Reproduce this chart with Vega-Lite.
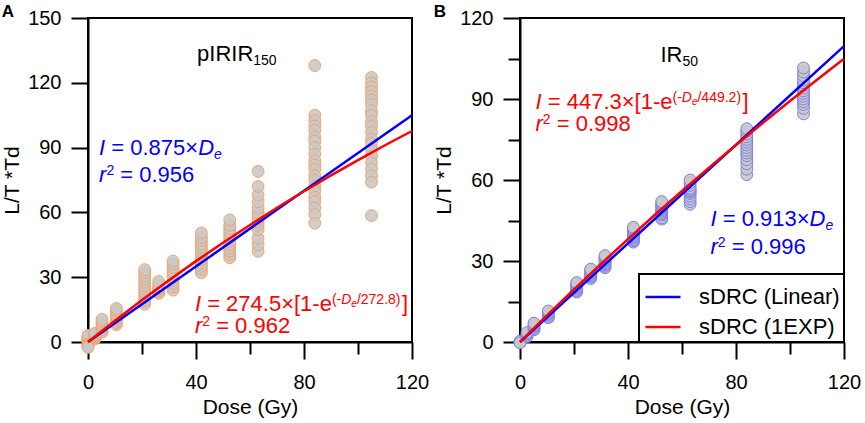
{
  "$schema": "https://vega.github.io/schema/vega-lite/v6.json",
  "padding": {"left": 0, "top": 2, "right": 0, "bottom": 0},
  "background": "white",
  "config": {
    "view": {"stroke": "black", "strokeWidth": 2},
    "font": "Liberation Sans",
    "axis": {
      "domainColor": "black", "domainWidth": 2, "tickColor": "black", "tickWidth": 2,
      "labelFont": "Liberation Sans", "labelFontSize": 20, "labelColor": "black",
      "titleFont": "Liberation Sans", "titleFontSize": 21, "titleFontWeight": "normal", "titleColor": "black",
      "grid": false, "labelFlush": false, "labelOverlap": false, "labelPadding": 10
    },
    "axisX": {"labelPadding": 13},
    "legend": {"strokeWidth": 2},
    "title": {"anchor": "start", "frame": "bounds", "font": "Liberation Sans", "fontSize": 17, "fontWeight": "bold", "color": "black", "offset": -13}
  },
  "datasets": {
    "ptsA": [
      {"dose": 0, "lum": 0}, {"dose": 0, "lum": 0.5}, {"dose": 0, "lum": 1}, {"dose": 0, "lum": 1.5}, {"dose": 0, "lum": 2}, {"dose": 0, "lum": 2.5}, {"dose": 0, "lum": 3}, {"dose": 0, "lum": -1}, {"dose": 0, "lum": -1.5}, {"dose": 0, "lum": -2}, {"dose": 0, "lum": -2.5},
      {"dose": 2.6, "lum": 1.5}, {"dose": 2.6, "lum": 2}, {"dose": 2.6, "lum": 2.5}, {"dose": 2.6, "lum": 3}, {"dose": 2.6, "lum": 3.5}, {"dose": 2.6, "lum": 4},
      {"dose": 5.2, "lum": 4.5}, {"dose": 5.2, "lum": 5.5}, {"dose": 5.2, "lum": 6.5}, {"dose": 5.2, "lum": 7.5}, {"dose": 5.2, "lum": 8.5}, {"dose": 5.2, "lum": 9.5}, {"dose": 5.2, "lum": 10.5},
      {"dose": 10.5, "lum": 8}, {"dose": 10.5, "lum": 9}, {"dose": 10.5, "lum": 10}, {"dose": 10.5, "lum": 11}, {"dose": 10.5, "lum": 12}, {"dose": 10.5, "lum": 13}, {"dose": 10.5, "lum": 14.5}, {"dose": 10.5, "lum": 15.5},
      {"dose": 21, "lum": 17.5}, {"dose": 21, "lum": 19}, {"dose": 21, "lum": 20.5}, {"dose": 21, "lum": 22}, {"dose": 21, "lum": 23}, {"dose": 21, "lum": 24.5}, {"dose": 21, "lum": 26}, {"dose": 21, "lum": 27.5}, {"dose": 21, "lum": 29}, {"dose": 21, "lum": 30.5}, {"dose": 21, "lum": 32}, {"dose": 21, "lum": 33.5},
      {"dose": 26.2, "lum": 22.5}, {"dose": 26.2, "lum": 23.5}, {"dose": 26.2, "lum": 24.5}, {"dose": 26.2, "lum": 25.5}, {"dose": 26.2, "lum": 26.5}, {"dose": 26.2, "lum": 28},
      {"dose": 31.5, "lum": 24}, {"dose": 31.5, "lum": 25.5}, {"dose": 31.5, "lum": 27}, {"dose": 31.5, "lum": 28.5}, {"dose": 31.5, "lum": 30}, {"dose": 31.5, "lum": 31.5}, {"dose": 31.5, "lum": 33}, {"dose": 31.5, "lum": 34.5}, {"dose": 31.5, "lum": 36}, {"dose": 31.5, "lum": 37.5},
      {"dose": 42, "lum": 32}, {"dose": 42, "lum": 33.5}, {"dose": 42, "lum": 35}, {"dose": 42, "lum": 36.5}, {"dose": 42, "lum": 38}, {"dose": 42, "lum": 39.5}, {"dose": 42, "lum": 41}, {"dose": 42, "lum": 42.5}, {"dose": 42, "lum": 44}, {"dose": 42, "lum": 45.5}, {"dose": 42, "lum": 47}, {"dose": 42, "lum": 48.5}, {"dose": 42, "lum": 50.5},
      {"dose": 52.5, "lum": 39}, {"dose": 52.5, "lum": 40.5}, {"dose": 52.5, "lum": 42}, {"dose": 52.5, "lum": 43.5}, {"dose": 52.5, "lum": 45}, {"dose": 52.5, "lum": 46.5}, {"dose": 52.5, "lum": 48}, {"dose": 52.5, "lum": 49.5}, {"dose": 52.5, "lum": 51}, {"dose": 52.5, "lum": 52.5}, {"dose": 52.5, "lum": 54}, {"dose": 52.5, "lum": 56.5},
      {"dose": 63, "lum": 42}, {"dose": 63, "lum": 45}, {"dose": 63, "lum": 48}, {"dose": 63, "lum": 52}, {"dose": 63, "lum": 54}, {"dose": 63, "lum": 55.5}, {"dose": 63, "lum": 57}, {"dose": 63, "lum": 58.5}, {"dose": 63, "lum": 60}, {"dose": 63, "lum": 62}, {"dose": 63, "lum": 65}, {"dose": 63, "lum": 68}, {"dose": 63, "lum": 72}, {"dose": 63, "lum": 79},
      {"dose": 84, "lum": 128}, {"dose": 84, "lum": 105}, {"dose": 84, "lum": 102.5}, {"dose": 84, "lum": 100}, {"dose": 84, "lum": 98}, {"dose": 84, "lum": 95}, {"dose": 84, "lum": 93}, {"dose": 84, "lum": 90}, {"dose": 84, "lum": 87}, {"dose": 84, "lum": 84}, {"dose": 84, "lum": 82}, {"dose": 84, "lum": 80}, {"dose": 84, "lum": 77}, {"dose": 84, "lum": 75}, {"dose": 84, "lum": 72}, {"dose": 84, "lum": 70}, {"dose": 84, "lum": 67}, {"dose": 84, "lum": 65}, {"dose": 84, "lum": 62}, {"dose": 84, "lum": 59}, {"dose": 84, "lum": 55},
      {"dose": 105, "lum": 122.5}, {"dose": 105, "lum": 120}, {"dose": 105, "lum": 118}, {"dose": 105, "lum": 116}, {"dose": 105, "lum": 114}, {"dose": 105, "lum": 112}, {"dose": 105, "lum": 110}, {"dose": 105, "lum": 107}, {"dose": 105, "lum": 105}, {"dose": 105, "lum": 102}, {"dose": 105, "lum": 100}, {"dose": 105, "lum": 97}, {"dose": 105, "lum": 94}, {"dose": 105, "lum": 92}, {"dose": 105, "lum": 89}, {"dose": 105, "lum": 86}, {"dose": 105, "lum": 83}, {"dose": 105, "lum": 80}, {"dose": 105, "lum": 77}, {"dose": 105, "lum": 74}, {"dose": 105, "lum": 58.5}
    ],
    "ptsB": [
      {"dose": 0, "lum": 0}, {"dose": 0, "lum": 0.3}, {"dose": 0, "lum": -0.3},
      {"dose": 2.6, "lum": 2}, {"dose": 2.6, "lum": 2.5}, {"dose": 2.6, "lum": 3}, {"dose": 2.6, "lum": 3.5},
      {"dose": 5.2, "lum": 4.5}, {"dose": 5.2, "lum": 5}, {"dose": 5.2, "lum": 5.5}, {"dose": 5.2, "lum": 6}, {"dose": 5.2, "lum": 6.5}, {"dose": 5.2, "lum": 7},
      {"dose": 10.5, "lum": 9}, {"dose": 10.5, "lum": 9.5}, {"dose": 10.5, "lum": 10}, {"dose": 10.5, "lum": 10.5}, {"dose": 10.5, "lum": 11}, {"dose": 10.5, "lum": 11.5},
      {"dose": 21, "lum": 18.5}, {"dose": 21, "lum": 19}, {"dose": 21, "lum": 19.5}, {"dose": 21, "lum": 20}, {"dose": 21, "lum": 20.5}, {"dose": 21, "lum": 21}, {"dose": 21, "lum": 21.5}, {"dose": 21, "lum": 22},
      {"dose": 26.2, "lum": 23.5}, {"dose": 26.2, "lum": 24}, {"dose": 26.2, "lum": 24.5}, {"dose": 26.2, "lum": 25}, {"dose": 26.2, "lum": 25.5}, {"dose": 26.2, "lum": 26}, {"dose": 26.2, "lum": 26.5}, {"dose": 26.2, "lum": 27},
      {"dose": 31.5, "lum": 27.5}, {"dose": 31.5, "lum": 28}, {"dose": 31.5, "lum": 28.5}, {"dose": 31.5, "lum": 29}, {"dose": 31.5, "lum": 29.5}, {"dose": 31.5, "lum": 30}, {"dose": 31.5, "lum": 30.5}, {"dose": 31.5, "lum": 31}, {"dose": 31.5, "lum": 31.5}, {"dose": 31.5, "lum": 32},
      {"dose": 42, "lum": 37}, {"dose": 42, "lum": 37.5}, {"dose": 42, "lum": 38}, {"dose": 42, "lum": 38.5}, {"dose": 42, "lum": 39}, {"dose": 42, "lum": 39.5}, {"dose": 42, "lum": 40}, {"dose": 42, "lum": 40.5}, {"dose": 42, "lum": 41}, {"dose": 42, "lum": 41.5}, {"dose": 42, "lum": 42}, {"dose": 42, "lum": 42.5},
      {"dose": 52.5, "lum": 45.5}, {"dose": 52.5, "lum": 46}, {"dose": 52.5, "lum": 47}, {"dose": 52.5, "lum": 47.5}, {"dose": 52.5, "lum": 48}, {"dose": 52.5, "lum": 48.5}, {"dose": 52.5, "lum": 49}, {"dose": 52.5, "lum": 49.5}, {"dose": 52.5, "lum": 50}, {"dose": 52.5, "lum": 50.5}, {"dose": 52.5, "lum": 51}, {"dose": 52.5, "lum": 51.5}, {"dose": 52.5, "lum": 52},
      {"dose": 63, "lum": 51}, {"dose": 63, "lum": 52}, {"dose": 63, "lum": 53}, {"dose": 63, "lum": 54}, {"dose": 63, "lum": 55}, {"dose": 63, "lum": 55.5}, {"dose": 63, "lum": 56}, {"dose": 63, "lum": 56.5}, {"dose": 63, "lum": 57}, {"dose": 63, "lum": 58}, {"dose": 63, "lum": 59}, {"dose": 63, "lum": 60},
      {"dose": 84, "lum": 62}, {"dose": 84, "lum": 64}, {"dose": 84, "lum": 66}, {"dose": 84, "lum": 67.5}, {"dose": 84, "lum": 69}, {"dose": 84, "lum": 70}, {"dose": 84, "lum": 71}, {"dose": 84, "lum": 72}, {"dose": 84, "lum": 73}, {"dose": 84, "lum": 74}, {"dose": 84, "lum": 75}, {"dose": 84, "lum": 76}, {"dose": 84, "lum": 77}, {"dose": 84, "lum": 78}, {"dose": 84, "lum": 79},
      {"dose": 105, "lum": 84.5}, {"dose": 105, "lum": 86.5}, {"dose": 105, "lum": 88}, {"dose": 105, "lum": 89}, {"dose": 105, "lum": 90}, {"dose": 105, "lum": 91}, {"dose": 105, "lum": 92}, {"dose": 105, "lum": 93}, {"dose": 105, "lum": 94}, {"dose": 105, "lum": 95}, {"dose": 105, "lum": 96}, {"dose": 105, "lum": 97}, {"dose": 105, "lum": 98.5}, {"dose": 105, "lum": 100}, {"dose": 105, "lum": 101.5}
    ],
    "fitA": [
      {"fit": "sDRC (Linear)", "dose": 0, "lum": 0}, {"fit": "sDRC (Linear)", "dose": 120, "lum": 105},
      {"fit": "sDRC (1EXP)", "dose": 0, "lum": 0}, {"fit": "sDRC (1EXP)", "dose": 10, "lum": 9.88}, {"fit": "sDRC (1EXP)", "dose": 20, "lum": 19.41}, {"fit": "sDRC (1EXP)", "dose": 30, "lum": 28.59}, {"fit": "sDRC (1EXP)", "dose": 40, "lum": 37.44}, {"fit": "sDRC (1EXP)", "dose": 50, "lum": 45.97}, {"fit": "sDRC (1EXP)", "dose": 60, "lum": 54.2}, {"fit": "sDRC (1EXP)", "dose": 70, "lum": 62.13}, {"fit": "sDRC (1EXP)", "dose": 80, "lum": 69.77}, {"fit": "sDRC (1EXP)", "dose": 90, "lum": 77.14}, {"fit": "sDRC (1EXP)", "dose": 100, "lum": 84.24}, {"fit": "sDRC (1EXP)", "dose": 110, "lum": 91.09}, {"fit": "sDRC (1EXP)", "dose": 120, "lum": 97.69}
    ],
    "fitB": [
      {"fit": "sDRC (Linear)", "dose": 0, "lum": 0}, {"fit": "sDRC (Linear)", "dose": 120, "lum": 109.56},
      {"fit": "sDRC (1EXP)", "dose": 0, "lum": 0}, {"fit": "sDRC (1EXP)", "dose": 10, "lum": 9.85}, {"fit": "sDRC (1EXP)", "dose": 20, "lum": 19.48}, {"fit": "sDRC (1EXP)", "dose": 30, "lum": 28.9}, {"fit": "sDRC (1EXP)", "dose": 40, "lum": 38.11}, {"fit": "sDRC (1EXP)", "dose": 50, "lum": 47.12}, {"fit": "sDRC (1EXP)", "dose": 60, "lum": 55.93}, {"fit": "sDRC (1EXP)", "dose": 70, "lum": 64.54}, {"fit": "sDRC (1EXP)", "dose": 80, "lum": 72.97}, {"fit": "sDRC (1EXP)", "dose": 90, "lum": 81.21}, {"fit": "sDRC (1EXP)", "dose": 100, "lum": 89.27}, {"fit": "sDRC (1EXP)", "dose": 110, "lum": 97.15}, {"fit": "sDRC (1EXP)", "dose": 120, "lum": 104.87}
    ],
    "txtA": [
      {"t": "pIRIR", "x": 40.4, "y": 130.2, "grp": "lab", "lvl": "main", "it": false},
      {"t": "150", "x": 61.2, "y": 128.4, "grp": "lab", "lvl": "mid", "it": false},
      {"t": "I", "x": 4.1, "y": 86.6, "grp": "lin", "lvl": "main", "it": true},
      {"t": "= 0.875×", "x": 8.63, "y": 86.6, "grp": "lin", "lvl": "main", "it": false},
      {"t": "D", "x": 40.8, "y": 86.6, "grp": "lin", "lvl": "main", "it": true},
      {"t": "e", "x": 46.7, "y": 84.5, "grp": "lin", "lvl": "mid", "it": true},
      {"t": "r", "x": 4.1, "y": 73.9, "grp": "lin", "lvl": "main", "it": true},
      {"t": "2", "x": 6.81, "y": 77.1, "grp": "lin", "lvl": "mid", "it": false},
      {"t": "= 0.956", "x": 11.96, "y": 73.9, "grp": "lin", "lvl": "main", "it": false},
      {"t": "I", "x": 39.6, "y": 14.5, "grp": "exp", "lvl": "main", "it": true},
      {"t": "= 274.5×[1-e", "x": 44.13, "y": 14.5, "grp": "exp", "lvl": "main", "it": false},
      {"t": "(-", "x": 90.34, "y": 17.74, "grp": "exp", "lvl": "mid", "it": false},
      {"t": "D", "x": 93.79, "y": 17.74, "grp": "exp", "lvl": "mid", "it": true},
      {"t": "e", "x": 97.53, "y": 16.35, "grp": "exp", "lvl": "tiny", "it": true},
      {"t": "/272.8)", "x": 99.59, "y": 17.74, "grp": "exp", "lvl": "mid", "it": false},
      {"t": "]", "x": 116.3, "y": 14.5, "grp": "exp", "lvl": "main", "it": false},
      {"t": "r", "x": 39.6, "y": 4.2, "grp": "exp", "lvl": "main", "it": true},
      {"t": "2", "x": 42.31, "y": 7.44, "grp": "exp", "lvl": "mid", "it": false},
      {"t": "= 0.962", "x": 47.46, "y": 4.2, "grp": "exp", "lvl": "main", "it": false}
    ],
    "txtB": [
      {"t": "IR", "x": 52.0, "y": 103.6, "grp": "lab", "lvl": "main", "it": false},
      {"t": "50", "x": 60.2, "y": 102.1, "grp": "lab", "lvl": "mid", "it": false},
      {"t": "I", "x": 5.74, "y": 86.3, "grp": "exp", "lvl": "main", "it": true},
      {"t": "= 447.3×[1-e", "x": 10.27, "y": 86.3, "grp": "exp", "lvl": "main", "it": false},
      {"t": "(-", "x": 56.48, "y": 88.89, "grp": "exp", "lvl": "mid", "it": false},
      {"t": "D", "x": 59.93, "y": 88.89, "grp": "exp", "lvl": "mid", "it": true},
      {"t": "e", "x": 63.67, "y": 87.78, "grp": "exp", "lvl": "tiny", "it": true},
      {"t": "/449.2)", "x": 65.73, "y": 88.89, "grp": "exp", "lvl": "mid", "it": false},
      {"t": "]", "x": 82.4, "y": 86.3, "grp": "exp", "lvl": "main", "it": false},
      {"t": "r", "x": 5.74, "y": 78.26, "grp": "exp", "lvl": "main", "it": true},
      {"t": "2", "x": 8.45, "y": 80.85, "grp": "exp", "lvl": "mid", "it": false},
      {"t": "= 0.998", "x": 13.6, "y": 78.26, "grp": "exp", "lvl": "main", "it": false},
      {"t": "I", "x": 70.56, "y": 43.07, "grp": "lin", "lvl": "main", "it": true},
      {"t": "= 0.913×", "x": 75.09, "y": 43.07, "grp": "lin", "lvl": "main", "it": false},
      {"t": "D", "x": 107.26, "y": 43.07, "grp": "lin", "lvl": "main", "it": true},
      {"t": "e", "x": 113.14, "y": 41.4, "grp": "lin", "lvl": "mid", "it": true},
      {"t": "r", "x": 70.56, "y": 32.6, "grp": "lin", "lvl": "main", "it": true},
      {"t": "2", "x": 73.27, "y": 35.19, "grp": "lin", "lvl": "mid", "it": false},
      {"t": "= 0.996", "x": 78.42, "y": 32.6, "grp": "lin", "lvl": "main", "it": false}
    ]
  },
  "hconcat": [
    {
      "title": "A",
      "width": 324,
      "height": 324,
      "layer": [
        {
          "data": {"name": "ptsA"},
          "mark": {"type": "circle", "size": 140, "fill": "#c9c9c9", "fillOpacity": 0.9, "stroke": "#f3a466", "strokeWidth": 1, "opacity": 1},
          "encoding": {
            "x": {"field": "dose", "type": "quantitative", "scale": {"domain": [0, 120], "nice": false},
              "axis": {"title": "Dose (Gy)", "values": [0, 20, 40, 60, 80, 100, 120], "labelExpr": "datum.value % 40 === 0 ? datum.label : ''",
                "tickSize": {"condition": {"test": "datum.value % 40 === 0", "value": 17}, "value": 12}, "titlePadding": 4}},
            "y": {"field": "lum", "type": "quantitative", "scale": {"domain": [0, 150], "nice": false},
              "axis": {"title": "L/T *Td", "values": [0, 15, 30, 45, 60, 75, 90, 105, 120, 135, 150], "labelExpr": "datum.value % 30 === 0 ? datum.label : ''",
                "tickSize": {"condition": {"test": "datum.value % 30 === 0", "value": 17}, "value": 12}, "titlePadding": 5}}
          }
        },
        {
          "data": {"name": "fitA"},
          "mark": {"type": "line", "strokeWidth": 2.5},
          "encoding": {
            "x": {"field": "dose", "type": "quantitative"},
            "y": {"field": "lum", "type": "quantitative"},
            "stroke": {"field": "fit", "type": "nominal", "scale": {"domain": ["sDRC (Linear)", "sDRC (1EXP)"], "range": ["#0000ff", "#ff0000"]}, "legend": null}
          }
        },
        {
          "data": {"name": "txtA"},
          "transform": [{"filter": "!datum.it"}],
          "mark": {"type": "text", "align": "left", "baseline": "alphabetic", "font": "Liberation Sans"},
          "encoding": {
            "x": {"field": "x", "type": "quantitative"},
            "y": {"field": "y", "type": "quantitative"},
            "text": {"field": "t"},
            "fill": {"field": "grp", "type": "nominal", "scale": {"domain": ["lin", "exp", "lab"], "range": ["#0000ff", "#ff0000", "#000000"]}, "legend": null},
            "size": {"field": "lvl", "type": "nominal", "scale": {"type": "ordinal", "domain": ["main", "mid", "tiny"], "range": [22, 14, 10]}, "legend": null}
          }
        },
        {
          "data": {"name": "txtA"},
          "transform": [{"filter": "datum.it"}],
          "mark": {"type": "text", "align": "left", "baseline": "alphabetic", "font": "Liberation Sans", "fontStyle": "italic"},
          "encoding": {
            "x": {"field": "x", "type": "quantitative"},
            "y": {"field": "y", "type": "quantitative"},
            "text": {"field": "t"},
            "fill": {"field": "grp", "type": "nominal", "scale": {"domain": ["lin", "exp", "lab"], "range": ["#0000ff", "#ff0000", "#000000"]}, "legend": null},
            "size": {"field": "lvl", "type": "nominal", "scale": {"type": "ordinal", "domain": ["main", "mid", "tiny"], "range": [22, 14, 10]}, "legend": null}
          }
        }
      ]
    },
    {
      "title": "B",
      "width": 324,
      "height": 324,
      "layer": [
        {
          "data": {"name": "ptsB"},
          "mark": {"type": "circle", "size": 140, "fill": "#c9c9c9", "fillOpacity": 0.9, "stroke": "#7f7fe6", "strokeWidth": 1, "opacity": 1},
          "encoding": {
            "x": {"field": "dose", "type": "quantitative", "scale": {"domain": [0, 120], "nice": false},
              "axis": {"title": "Dose (Gy)", "values": [0, 20, 40, 60, 80, 100, 120], "labelExpr": "datum.value % 40 === 0 ? datum.label : ''",
                "tickSize": {"condition": {"test": "datum.value % 40 === 0", "value": 17}, "value": 12}, "titlePadding": 4}},
            "y": {"field": "lum", "type": "quantitative", "scale": {"domain": [0, 120], "nice": false},
              "axis": {"title": "L/T *Td", "values": [0, 15, 30, 45, 60, 75, 90, 105, 120], "labelExpr": "datum.value % 30 === 0 ? datum.label : ''",
                "tickSize": {"condition": {"test": "datum.value % 30 === 0", "value": 17}, "value": 12}, "titlePadding": 5}}
          }
        },
        {
          "data": {"name": "fitB"},
          "mark": {"type": "line", "strokeWidth": 2.5},
          "encoding": {
            "x": {"field": "dose", "type": "quantitative"},
            "y": {"field": "lum", "type": "quantitative"},
            "stroke": {"field": "fit", "type": "nominal", "scale": {"domain": ["sDRC (Linear)", "sDRC (1EXP)"], "range": ["#0000ff", "#ff0000"]},
              "legend": {"title": null, "orient": "bottom-right", "offset": 0, "strokeColor": "black", "fillColor": "white", "padding": 4, "symbolOffset": 1,
                "symbolType": "stroke", "symbolSize": 1225, "symbolStrokeWidth": 2.5, "labelFont": "Liberation Sans", "labelFontSize": 22, "labelColor": "black", "labelOffset": 17, "rowPadding": -7}}
          }
        },
        {
          "data": {"name": "txtB"},
          "transform": [{"filter": "!datum.it"}],
          "mark": {"type": "text", "align": "left", "baseline": "alphabetic", "font": "Liberation Sans"},
          "encoding": {
            "x": {"field": "x", "type": "quantitative"},
            "y": {"field": "y", "type": "quantitative"},
            "text": {"field": "t"},
            "fill": {"field": "grp", "type": "nominal", "scale": {"domain": ["lin", "exp", "lab"], "range": ["#0000ff", "#ff0000", "#000000"]}, "legend": null},
            "size": {"field": "lvl", "type": "nominal", "scale": {"type": "ordinal", "domain": ["main", "mid", "tiny"], "range": [22, 14, 10]}, "legend": null}
          }
        },
        {
          "data": {"name": "txtB"},
          "transform": [{"filter": "datum.it"}],
          "mark": {"type": "text", "align": "left", "baseline": "alphabetic", "font": "Liberation Sans", "fontStyle": "italic"},
          "encoding": {
            "x": {"field": "x", "type": "quantitative"},
            "y": {"field": "y", "type": "quantitative"},
            "text": {"field": "t"},
            "fill": {"field": "grp", "type": "nominal", "scale": {"domain": ["lin", "exp", "lab"], "range": ["#0000ff", "#ff0000", "#000000"]}, "legend": null},
            "size": {"field": "lvl", "type": "nominal", "scale": {"type": "ordinal", "domain": ["main", "mid", "tiny"], "range": [22, 14, 10]}, "legend": null}
          }
        }
      ]
    }
  ],
  "spacing": 2,
  "resolve": {"scale": {"stroke": "independent", "fill": "independent", "size": "independent"}, "legend": {"stroke": "independent"}}
}
